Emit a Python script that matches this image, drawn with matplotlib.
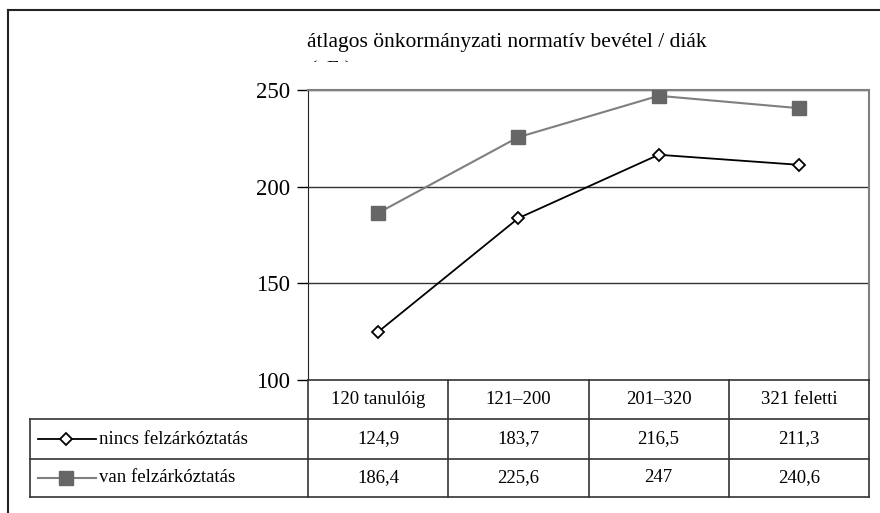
import matplotlib.pyplot as plt
from matplotlib.lines import Line2D
from matplotlib.transforms import Bbox, TransformedBbox

plt.rcParams['font.family'] = ['Liberation Serif', 'DejaVu Serif']

categories = ['120 tanulóig', '121\u2013200', '201\u2013320', '321 feletti']
nincs = [124.9, 183.7, 216.5, 211.3]
van = [186.4, 225.6, 247, 240.6]
nincs_lbl = ['124,9', '183,7', '216,5', '211,3']
van_lbl = ['186,4', '225,6', '247', '240,6']
series_names = ['nincs felzárkóztatás', 'van felzárkóztatás']
yticks = [100, 150, 200, 250]

W, H = 880, 513
fig = plt.figure(figsize=(W / 100, H / 100), dpi=100)

# plot area in pixel coords
px_l, px_r, px_t, px_b = 308, 869, 90, 380
ax = fig.add_axes([px_l / W, 1 - px_b / H, (px_r - px_l) / W, (px_b - px_t) / H])
x = list(range(len(categories)))
ax.set_xlim(-0.5, len(categories) - 0.5)
ax.set_ylim(100, 250)
for yv in yticks[1:]:
    ax.axhline(yv, color='#333333', lw=1, zorder=1)
ax.plot(x, van, color='#7f7f7f', lw=1.5, marker='s', ms=10,
        mfc='#666666', mec='#666666', zorder=3)
ax.plot(x, nincs, color='black', lw=1.3, marker='D', ms=6,
        mfc='white', mec='black', mew=1.3, zorder=4)
ax.set_yticks(yticks)
ax.set_xticks([])
ax.tick_params(axis='y', labelsize=16.5, length=8, width=1, pad=5)
for s in ['top', 'right']:
    ax.spines[s].set_color('#808080')
    ax.spines[s].set_linewidth(1.5)
ax.spines['left'].set_color('#222222')
ax.spines['bottom'].set_visible(False)

# overlay in pixel coords for the data table and frame
ov = fig.add_axes([0, 0, 1, 1], zorder=5)
ov.set_xlim(0, W)
ov.set_ylim(H, 0)
ov.axis('off')
ov.patch.set_alpha(0)

def seg(x0, y0, x1, y1, c='#333333', lw=1.2):
    ov.add_line(Line2D([x0, x1], [y0, y1], color=c, lw=lw))

# outer frame (cut off at right and bottom)
seg(8, 10, W, 10, '#222222', 1.5)
seg(8, 10, 8, H, '#222222', 1.5)

col_w = (px_r - px_l) / len(categories)
rows = [380, 419, 459, 497]
tbl_l = 30
seg(px_l, rows[0], px_r, rows[0])
for r in rows[1:]:
    seg(tbl_l, r, px_r, r)
seg(tbl_l, rows[1], tbl_l, rows[3])
for i in range(len(categories) + 1):
    seg(px_l + i * col_w, rows[0], px_l + i * col_w, rows[3])

fs = 13.5
for i, cat in enumerate(categories):
    cx = px_l + (i + 0.5) * col_w
    ov.text(cx, (rows[0] + rows[1]) / 2, cat, ha='center', va='center', fontsize=fs)
    ov.text(cx, (rows[1] + rows[2]) / 2, nincs_lbl[i], ha='center', va='center', fontsize=fs)
    ov.text(cx, (rows[2] + rows[3]) / 2, van_lbl[i], ha='center', va='center', fontsize=fs)

# legend keys inside the table
y1 = (rows[1] + rows[2]) / 2
y2 = (rows[2] + rows[3]) / 2
ov.plot([38, 96], [y1, y1], color='black', lw=1.3)
ov.plot([66], [y1], marker='D', ms=6, mfc='white', mec='black', mew=1.3, color='black')
ov.plot([38, 96], [y2, y2], color='#7f7f7f', lw=1.5)
ov.plot([66], [y2], marker='s', ms=10, mfc='#666666', mec='#666666')
ov.text(99, y1, series_names[0], ha='left', va='center', fontsize=fs)
ov.text(99, y2, series_names[1], ha='left', va='center', fontsize=fs)

# title, second line clipped as in the original
ov.text(307, 43, 'átlagos önkormányzati normatív bevétel / diák', ha='left',
        va='center', fontsize=15.5)
t2 = ov.text(310, 71, '(eFt)', ha='left', va='center', fontsize=15.5)
t2.set_clip_box(TransformedBbox(Bbox([[300, 50], [500, 62]]), ov.transData))
t2.set_clip_on(True)

fig.savefig('out.png', dpi=100)
